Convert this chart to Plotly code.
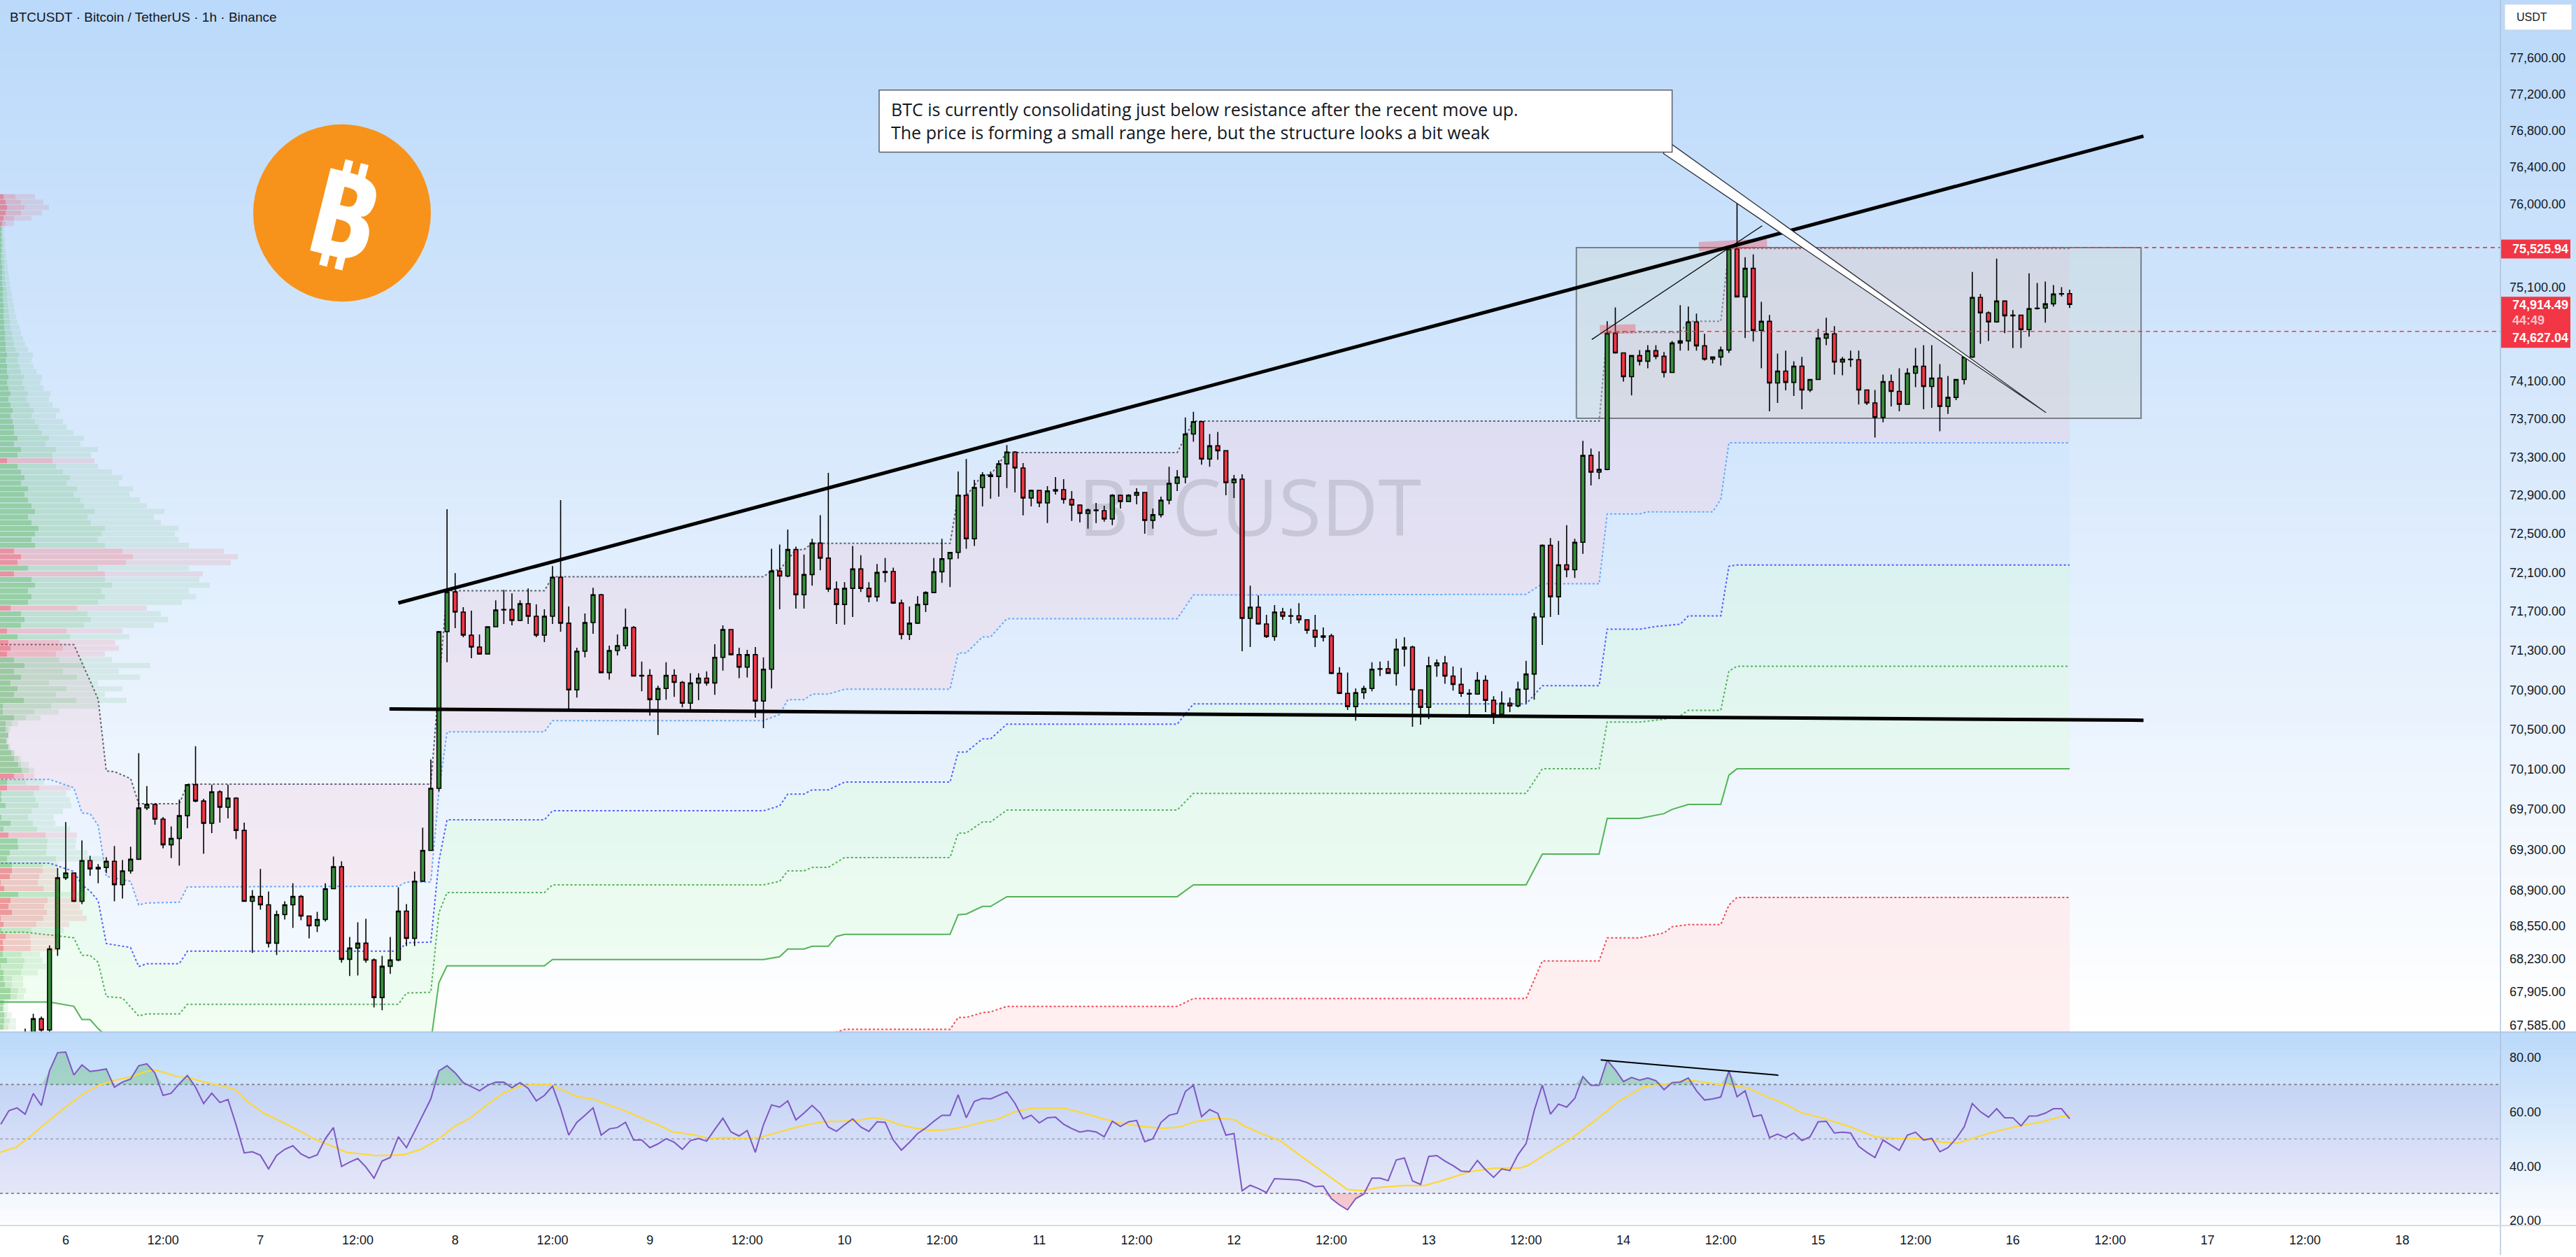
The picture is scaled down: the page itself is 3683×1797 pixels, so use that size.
import math
import numpy as np
import plotly.graph_objects as go

W, H = 3683, 1797
PLOT_R = 3575      # right edge of the panes, px
MAIN_B = 1478      # bottom of the price pane, px
RSI_B = 1755       # bottom of the RSI pane, px

# ---------------------------------------------------------------- data
# hourly BTCUSDT bars, x = hours counted from Apr 6 00:00 (first bar = Apr 5 19:00)
first_bar = -5
opens = [
    67380, 67480, 67646, 67537, 68325,
    69022, 69069, 68790, 69192, 69110, 69124, 69185, 68954, 69090, 69205, 69714, 69749, 69603, 69349, 69411, 69637, 69947, 69783, 69561, 69875, 69721, 69812, 69491, 68790,
    68838, 68756, 68380, 68660, 68756, 68838, 68646, 68550, 68612, 68914, 69131, 68223, 68332, 68380, 68216, 67851, 68155, 68216, 68694, 68427, 68988, 69293, 69910, 71493,
    71900, 71693, 71457, 71336, 71265, 71543, 71714, 71720, 71607, 71778, 71650, 71457, 71650, 72050, 71579, 70900, 71293, 71586, 71871, 71075, 71300, 71350, 71536, 71040,
    71047, 70802, 70914, 71047, 70977, 70766, 70970, 71019, 70970, 71230, 71514, 71258, 71131, 71258, 70788, 71110, 72114, 72063, 72336, 71871, 72078, 72403, 72248, 71929,
    71771, 71936, 72136, 71936, 71850, 72100, 72110, 71785, 71464, 71579, 71771, 71893, 72107, 72241, 72307, 72900, 72448, 72980, 73111, 73096, 73227, 73351, 73184, 72871,
    72951, 72820, 72944, 72958, 72856, 72798, 72711, 72747, 72740, 72653, 72900, 72835, 72900, 72929, 72639, 72697, 72849, 73024, 73089, 73540, 73671, 73278, 73416, 73365,
    73031, 73067, 71629, 71743, 71571, 71443, 71693, 71650, 71655, 71614, 71507, 71436, 71450, 71068, 70865, 70731, 70872, 70914, 71110, 71115, 71068, 71314, 71336, 70900,
    70724, 71145, 71174, 71040, 70956, 70865, 70858, 70998, 70795, 70654, 70766, 70738, 70907, 71061, 71643, 72381, 71850, 72178, 72128, 72411, 73315, 73140, 73169, 74607,
    74398, 74145, 74369, 74309, 74421, 74361, 74190, 74503, 74525, 74727, 74473, 74331, 74354, 74428, 75510, 74996, 75302, 74637, 74734, 74078, 74205, 74085, 74256, 74005,
    74115, 74555, 74600, 74301, 74331, 74325, 74005, 73868, 73715, 74093, 73990, 73853, 74182, 74256, 74041, 74130, 73831, 73926, 74115, 74354, 74989, 74824, 74727, 74951,
    74794, 74800, 74645, 74869, 74875, 74921, 75026, 75030,
]
highs = [
    67550, 67694, 67667, 68359, 69117,
    69574, 69075, 69391, 69239, 69158, 69225, 69335, 69198, 69328, 70261, 69933, 69760, 69624, 69530, 69798, 69950, 70332, 69805, 69947, 69890, 69947, 69820, 69568, 68900,
    69110, 68886, 68700, 68790, 68968, 68852, 68650, 68687, 68968, 69232, 69185, 68441, 68584, 68619, 68230, 68257, 68441, 68928, 68763, 69083, 69518, 70198, 71500, 72754,
    72093, 71743, 71707, 71464, 71543, 71814, 71921, 71885, 71814, 71935, 71771, 71721, 72165, 72849, 71750, 71328, 71679, 71943, 71880, 71350, 71464, 71728, 71550, 71188,
    71110, 70942, 71181, 71110, 70991, 71068, 71068, 71089, 71364, 71557, 71520, 71328, 71307, 71336, 71230, 72344, 72388, 72544, 72366, 72285, 72448, 72692, 73133, 72007,
    72000, 72374, 72278, 72000, 72187, 72248, 72150, 71821, 71750, 71857, 71907, 72248, 72448, 72310, 73147, 73278, 73060, 73140, 73147, 73264, 73424, 73360, 73235, 72958,
    72955, 72995, 73089, 73067, 72944, 72805, 72762, 72820, 72791, 72910, 72907, 72910, 72973, 72935, 72762, 72885, 73198, 73162, 73714, 73773, 73680, 73540, 73562, 73370,
    73111, 73118, 71964, 71864, 71664, 71764, 71736, 71728, 71785, 71620, 71664, 71536, 71471, 71131, 71075, 70914, 70942, 71181, 71188, 71195, 71421, 71436, 71350, 70905,
    71237, 71209, 71244, 71138, 71124, 70907, 71082, 71047, 70837, 70886, 70823, 70984, 71195, 71686, 72390, 72455, 72425, 72588, 72448, 73468, 73387, 73358, 74734, 74883,
    74400, 74375, 74428, 74480, 74480, 74406, 74525, 74906, 74891, 74817, 74600, 74360, 74465, 75525.94, 76008, 75421, 75451, 74943, 74802, 74391, 74421, 74309, 74354, 74120,
    74653, 74772, 74683, 74354, 74421, 74421, 74010, 74005, 74167, 74167, 74234, 74234, 74450, 74480, 74480, 74279, 74152, 74120, 74360, 75264, 75026, 74839, 75406, 74960,
    74854, 74805, 75249, 75145, 75160, 75123, 75100, 75071,
]
lows = [
    67250, 67450, 67517, 67510, 68257,
    69000, 68783, 68763, 69042, 68968, 69069, 68790, 68818, 69062, 69200, 69693, 69547, 69314, 69217, 69142, 69512, 69770, 69259, 69464, 69568, 69610, 69405, 68785, 68285,
    68708, 68339, 68264, 68612, 68530, 68605, 68427, 68489, 68591, 68910, 68189, 68060, 68066, 68189, 67755, 67728, 68080, 68203, 68352, 68352, 68980, 69290, 69880, 71181,
    71529, 71436, 71222, 71258, 71260, 71540, 71571, 71557, 71600, 71571, 71436, 71386, 71571, 71493, 70696, 70823, 71230, 71471, 71070, 71005, 71251, 71314, 71035, 70886,
    70640, 70444, 70802, 70830, 70724, 70689, 70795, 70942, 70851, 71096, 71250, 71019, 71026, 70619, 70514, 70914, 71721, 72050, 71728, 71728, 71964, 72122, 71900, 71571,
    71564, 71643, 71900, 71793, 71800, 72000, 71778, 71414, 71407, 71571, 71693, 71890, 71993, 71950, 72241, 72344, 72374, 72784, 72863, 72885, 72975, 72929, 72690, 72784,
    72776, 72610, 72907, 72813, 72632, 72617, 72552, 72610, 72625, 72588, 72762, 72830, 72805, 72500, 72552, 72668, 72805, 72944, 73024, 73460, 73220, 73198, 73271, 72900,
    72871, 71293, 71336, 71565, 71429, 71400, 71614, 71571, 71579, 71471, 71336, 71393, 71060, 70858, 70696, 70590, 70809, 70886, 71040, 71061, 70942, 71138, 70528, 70549,
    70605, 71033, 70963, 70893, 70830, 70654, 70850, 70675, 70556, 70648, 70675, 70724, 70766, 70802, 71357, 71643, 71664, 72050, 72043, 72292, 73002, 73067, 73160, 74390,
    74093, 73948, 74264, 74234, 74331, 74138, 74185, 74421, 74421, 74421, 74316, 74286, 74264, 74398, 74990, 74555, 74518, 74234, 73780, 73868, 74000, 73941, 73802, 73983,
    74110, 74480, 74167, 74160, 74249, 73852, 73846, 73504, 73664, 73831, 73780, 73850, 74034, 73802, 73817, 73570, 73751, 73897, 74063, 74346, 74495, 74525, 74720, 74607,
    74450, 74450, 74570, 74860, 74720, 74891, 75000, 74876,
]
closes = [
    67480, 67646, 67537, 68325, 69022,
    69069, 68790, 69192, 69110, 69124, 69185, 68954, 69090, 69205, 69714, 69749, 69603, 69349, 69411, 69637, 69947, 69783, 69561, 69875, 69721, 69812, 69491, 68790, 68838,
    68756, 68380, 68660, 68756, 68838, 68646, 68550, 68612, 68914, 69131, 68223, 68332, 68380, 68216, 67851, 68155, 68216, 68694, 68427, 68988, 69293, 69910, 71493, 71900,
    71693, 71457, 71336, 71265, 71543, 71714, 71720, 71607, 71778, 71650, 71457, 71650, 72050, 71579, 70900, 71293, 71586, 71871, 71075, 71300, 71350, 71536, 71040, 71047,
    70802, 70914, 71047, 70977, 70766, 70970, 71019, 70970, 71230, 71514, 71258, 71131, 71258, 70788, 71110, 72114, 72063, 72336, 71871, 72078, 72403, 72248, 71929, 71771,
    71936, 72136, 71936, 71850, 72100, 72110, 71785, 71464, 71579, 71771, 71893, 72107, 72241, 72307, 72900, 72448, 72980, 73111, 73096, 73227, 73351, 73184, 72871, 72951,
    72820, 72944, 72958, 72856, 72798, 72711, 72747, 72740, 72653, 72900, 72835, 72900, 72929, 72639, 72697, 72849, 73024, 73089, 73540, 73671, 73278, 73416, 73365, 73031,
    73067, 71629, 71743, 71571, 71443, 71693, 71650, 71655, 71614, 71507, 71436, 71450, 71068, 70865, 70731, 70872, 70914, 71110, 71115, 71068, 71314, 71336, 70900, 70724,
    71145, 71174, 71040, 70956, 70865, 70858, 70998, 70795, 70654, 70766, 70738, 70907, 71061, 71643, 72381, 71850, 72178, 72128, 72411, 73315, 73140, 73169, 74607, 74398,
    74145, 74369, 74309, 74421, 74361, 74190, 74503, 74525, 74727, 74473, 74331, 74354, 74428, 75510, 74996, 75302, 74637, 74734, 74078, 74205, 74085, 74256, 74005, 74115,
    74555, 74600, 74301, 74331, 74325, 74005, 73868, 73715, 74093, 73990, 73853, 74182, 74256, 74041, 74130, 73831, 73926, 74115, 74354, 74989, 74824, 74727, 74951, 74794,
    74800, 74645, 74869, 74875, 74921, 75026, 75030, 74914.49,
]
bar_hours = list(range(first_bar, first_bar + len(closes)))

# RSI(14), one value per hour from Apr 5 16:00
rsi_first = -8
rsi = [
    55.4, 60.4, 61.4, 59.1, 66.7, 62.3, 75.0, 81.7,
    81.9, 73.5, 77.2, 74.8, 75.2, 75.7, 69.0, 70.9, 72.0, 76.9, 77.6, 74.2, 66.0, 66.8, 70.3, 73.3, 69.0, 63.0, 66.8, 63.4, 64.5, 55.2, 44.9, 45.3,
    44.0, 39.0, 44.0, 46.2, 47.5, 44.5, 43.0, 44.2, 50.1, 54.2, 39.9, 41.5, 42.8, 39.7, 35.6, 41.9, 43.2, 50.8, 46.8, 52.6, 58.7, 64.7, 75.0, 76.9,
    74.3, 70.7, 69.2, 67.7, 69.7, 70.9, 70.9, 68.8, 70.7, 68.6, 64.0, 66.0, 69.4, 61.2, 51.4, 56.1, 58.7, 61.4, 51.4, 53.7, 54.2, 56.1, 49.6, 49.6,
    46.8, 48.2, 50.1, 48.8, 46.2, 49.4, 50.2, 49.2, 53.5, 57.6, 52.6, 51.1, 53.1, 45.1, 55.2, 62.5, 61.7, 64.0, 57.0, 59.5, 62.3, 59.5, 54.4, 52.8,
    55.2, 57.4, 54.4, 52.8, 56.3, 56.1, 49.6, 45.9, 48.8, 52.0, 54.0, 56.5, 58.7, 58.7, 66.2, 57.8, 63.8, 64.9, 64.7, 66.0, 67.3, 63.1, 57.4, 58.7,
    55.9, 57.8, 58.0, 55.4, 53.8, 52.5, 53.1, 52.6, 50.8, 56.5, 54.6, 56.3, 56.8, 49.0, 50.1, 56.1, 58.7, 59.4, 67.4, 69.7, 58.2, 60.8, 59.4, 51.4,
    52.0, 31.0, 33.0, 31.8, 30.3, 35.4,
    35.3, 35.1, 34.9, 34.0, 32.5, 32.7, 28.1, 25.8, 24.0, 28.1, 29.8, 35.6, 35.6, 34.7, 42.3, 43.0, 34.6, 33.3, 43.6, 43.9, 41.9, 40.2, 38.2, 38.0,
    42.1, 38.7, 35.9, 39.0, 38.4, 44.2, 48.3, 60.4, 69.8, 59.1, 62.8, 61.7, 64.9, 72.9, 69.7, 69.7, 78.9, 75.4, 71.1, 72.6, 71.6, 72.4, 71.4, 68.1,
    70.7, 70.9, 72.4, 67.7, 64.3, 64.7, 65.4, 75.0, 65.5, 67.7, 58.2, 58.8, 50.5, 51.8, 50.5, 52.2, 49.4, 50.8, 56.3, 56.5, 52.2, 52.5, 52.2, 47.3,
    45.1, 43.2, 49.6, 47.7, 45.8, 51.4, 52.5, 49.6, 50.2, 45.3, 46.8, 50.1, 54.4, 63.0, 60.0, 58.0, 61.1, 57.8, 57.8, 54.8, 58.4, 58.5, 59.5, 61.1,
    61.1, 57.4,
]
rsi_hours = list(range(rsi_first, rsi_first + len(rsi)))

# RSI-based moving average (yellow), read as vertices
rsi_ma_hours = [-8.1, -6.1, -4.0, -2.0, 0.0, 2.1, 4.1, 6.1, 8.2, 9.7, 11.0, 12.2, 13.8, 15.3, 17.3, 19.4, 20.9, 22.4, 24.4, 26.5,
                28.5, 30.5, 32.6, 34.6, 36.7, 38.2, 39.7, 41.7, 43.8, 45.8, 47.8, 49.9, 51.9, 53.9, 56.0, 58.0, 59.8, 61.1, 63.1, 65.1,
                67.2, 69.2, 71.2, 73.3, 74.8, 77.3, 79.4, 81.4, 83.4, 85.5, 87.5, 89.5, 91.6, 93.6, 95.7, 97.7, 99.7, 101.3, 102.8, 104.8,
                106.8, 108.9, 110.9, 112.9, 115.0, 117.0, 119.0, 121.1, 123.1, 125.2, 127.2, 129.2, 131.3, 133.3, 135.3, 137.4, 139.4, 141.9, 144.0, 145.5,
                147.5, 149.7, 151.7, 153.7, 155.8, 158.0, 159.8, 161.9, 164.9, 167.5, 170.0, 173.1, 176.1, 179.2, 180.2, 182.2, 185.3, 188.4, 191.4, 194.5,
                197.5, 200.0, 202.6, 205.2, 207.2, 209.8, 211.8, 213.9, 216.9, 220.0, 223.0, 226.1, 229.1, 231.2, 233.2, 234.2, 237.2, 240.3, 243.3, 245.4, 247.2]
rsi_ma = [45.1, 47.0, 51.8, 57.0, 61.7, 66.4, 69.8, 71.6, 72.9, 74.6, 75.4, 74.3, 72.9, 72.4, 70.7, 69.4, 68.1, 63.8, 59.5, 56.5,
          53.5, 50.1, 47.7, 45.1, 44.5, 43.9, 44.0, 44.2, 46.2, 49.6, 54.4, 57.8, 62.5, 66.8, 69.4, 70.0, 69.9, 68.1, 65.5, 64.5,
          62.1, 60.0, 57.4, 54.8, 52.6, 51.6, 50.2, 50.5, 50.2, 50.5, 52.2, 53.9, 55.4, 56.4, 56.5, 56.9, 57.8, 56.9, 55.2, 53.9,
          53.1, 53.5, 54.5, 56.1, 57.4, 60.0, 61.2, 61.4, 61.2, 59.7, 58.0, 56.3, 55.2, 54.4, 53.9, 54.5, 56.5, 57.6, 57.1, 54.4,
          51.8, 49.4, 44.9, 40.6, 36.3, 31.4, 31.0, 32.2, 32.9, 32.9, 35.0, 38.0, 39.3, 39.3, 40.2, 44.0, 49.6, 56.5, 63.8, 69.2,
          70.3, 71.7, 70.5, 69.7, 68.8, 65.4, 63.0, 59.7, 57.4, 54.4, 50.8, 50.1, 50.1, 48.8, 48.5, 49.4, 52.2, 54.5, 56.1, 57.8, 58.8]

# stepped band indicator (vertices: hour, price)
band_top_h = [-9, 1, 4, 5, 6, 8, 9, 14, 15, 45, 46, 47, 59, 60, 86, 87, 88, 90, 91, 92, 109, 110, 111, 113, 114, 116, 137, 139, 189, 190, 199, 200, 204, 205, 247]
band_top_p = [71361, 71361, 70807, 70084, 70077, 70007, 69756, 69756, 69951, 69951, 70956, 71911, 71911, 72055, 72055, 72120, 72127, 72336, 72336, 72401,
              72401, 72894, 72894, 73112, 73112, 73346, 73346, 73676, 73676, 74616, 74616, 74735, 74735, 75515, 75515]
band_lb_h = [-9, -2, 1, 2, 3, 4, 5, 8, 9, 10, 14, 15, 41, 42, 45, 46, 47, 59, 60, 86, 88, 89, 91, 92, 94, 96, 109, 110, 111, 113,
             114, 116, 137, 139, 180, 182, 189, 190, 194, 195, 203, 204, 205, 247]
band_lb_p = [69999, 69999, 69916, 69665, 69658, 69540, 69036, 68987, 68754, 68774, 68781, 68932, 68939, 68980, 68980, 69881, 70476, 70476, 70589, 70589,
             70652, 70801, 70801, 70857, 70857, 70907, 70907, 71275, 71275, 71439, 71439, 71625, 71625, 71868, 71875, 71983, 71983, 72705, 72705, 72727,
             72727, 72858, 73449, 73449]
band_bl_h = [-9, -2, 1, 2, 3, 4, 5, 8, 9, 10, 14, 15, 41, 42, 45, 46, 47, 59, 60, 86, 88, 89, 91, 92, 94, 96, 109, 110, 111, 113,
             114, 116, 137, 139, 180, 182, 189, 190, 194, 196, 199, 200, 204, 205, 206, 247]
band_bl_p = [69167, 69167, 69084, 68953, 68891, 68795, 68377, 68337, 68152, 68180, 68180, 68302, 68302, 68384, 68391, 69187, 69596, 69596, 69686, 69686,
             69735, 69853, 69853, 69895, 69895, 69972, 69972, 70273, 70273, 70406, 70406, 70554, 70554, 70758, 70758, 70942, 70942, 71518, 71518, 71546,
             71568, 71653, 71653, 72163, 72177, 72177]
band_gd_h = [-9, -5, -1, 1, 2, 3, 4, 5, 7, 9, 10, 14, 15, 41, 42, 45, 46, 47, 59, 60, 86, 88, 89, 91, 92, 94, 96, 109, 110, 111,
             113, 114, 116, 137, 139, 180, 182, 189, 190, 194, 197, 199, 200, 204, 205, 206, 247]
band_gd_p = [68487, 68487, 68452, 68432, 68262, 68262, 68193, 67861, 67847, 67672, 67692, 67692, 67786, 67786, 67895, 67902, 68678, 68877, 68877, 68953,
             68953, 68987, 69091, 69091, 69125, 69125, 69222, 69222, 69464, 69464, 69575, 69575, 69693, 69693, 69860, 69860, 70105, 70105, 70575, 70575,
             70603, 70638, 70694, 70694, 71091, 71140, 71140]
band_gs_h = [-9, -2, 1, 2, 3, 4, 5, 9, 14, 15, 45, 46, 47, 59, 60, 86, 88, 89, 91, 92, 94, 95, 96, 109, 110, 111, 113, 114, 116, 137,
             139, 180, 182, 189, 190, 194, 197, 198, 200, 204, 205, 206, 247]
band_gs_p = [67807, 67807, 67766, 67638, 67638, 67550, 67480, 67330, 67330, 67420, 67420, 67996, 68159, 68159, 68221, 68221, 68248, 68323, 68323, 68350,
             68350, 68446, 68466, 68466, 68658, 68665, 68740, 68740, 68836, 68836, 68953, 68953, 69256, 69256, 69610, 69610, 69658, 69700, 69749, 69749,
             70042, 70105, 70105]
band_rd_h = [-9, 94, 95, 96, 109, 110, 111, 113, 114, 116, 137, 139, 180, 182, 189, 190, 194, 197, 198, 200, 204, 205, 206, 247]
band_rd_p = [67300, 67420, 67516, 67543, 67543, 67658, 67658, 67705, 67712, 67766, 67766, 67841, 67841, 68207, 68207, 68432, 68432, 68480, 68541, 68562,
             68562, 68754, 68829, 68829]

# visible-range volume profile, rows from the bottom price bin upward
vp_bottom = 67566
vp_step = 58.7
vp_side = list("GGGGGGGGGGGGGRRRGRRRRRGRRRRGGGGGRGGGGGGGRGRGGGGGGGGGGGGG"
               "GGGGGGGRRRGRGGGRGGGGGRGRRRGG" + "G" * 13 + "R" + "G" * 42 + "R" * 6)
vp_a = [5, 6, 6, 4, 5, 15, 15, 7, 5, 5, 1, 10, 4, 5, 4, 8, 2, 5, 1, 17, 12, 15, 26, 6, 1, 14, 17, 17, 10, 14,
        26, 25, 12, 5, 15, 2, 0, 8, 2, 2, 10, 10, 20, 31, 26, 20, 16, 12, 9, 12, 8, 8, 20, 4, 4, 34,
        20, 25, 15, 30, 20, 35, 20, 10, 15, 12, 25, 10, 30, 35, 30, 15, 40, 45, 40, 50,
        45, 20, 40, 25, 30, 20, 50, 45, 50, 55, 45, 40, 50, 45, 40, 35, 40, 30, 35, 30,
        25, 10, 25, 30, 20, 25, 20, 20, 18, 15, 18, 15, 12, 15, 12, 10, 12, 10, 10, 8,
        10, 8, 8, 7, 7, 6, 6, 5, 5, 5, 4, 4, 4, 3, 3, 3, 3, 2, 2, 2,
        2, 2, 2, 2, 3, 5, 8, 10, 8, 5]
vp_b = [12, 14, 10, 6, 7, 24, 26, 17, 17, 30, 33, 35, 31, 44, 44, 43, 45, 52, 62, 67, 63, 68, 78, 62, 54, 56, 61, 61, 80, 66,
        67, 68, 65, 53, 47, 40, 45, 55, 51, 48, 56, 37, 34, 41, 30, 26, 20, 12, 9, 12, 12, 17, 37, 49, 73, 109,
        80, 95, 70, 110, 90, 120, 85, 80, 90, 85, 100, 95, 120, 130, 125, 110, 140, 150, 145, 160,
        150, 150, 140, 180, 190, 175, 150, 140, 145, 150, 130, 125, 135, 120, 115, 105, 110, 95, 100, 90,
        80, 75, 75, 80, 65, 70, 60, 55, 50, 45, 48, 42, 38, 40, 35, 32, 34, 30, 28, 25,
        27, 22, 20, 18, 17, 15, 14, 13, 12, 11, 10, 10, 9, 8, 7, 7, 6, 6, 5, 4,
        4, 4, 3, 3, 8, 20, 30, 35, 30, 22]
vp_c = [23, 23, 17, 12, 12, 34, 37, 33, 33, 54, 66, 61, 57, 81, 81, 79, 91, 99, 124, 118, 114, 116, 124, 83, 87, 85, 83, 83, 149, 125,
        108, 109, 110, 100, 79, 77, 90, 102, 100, 95, 101, 63, 49, 49, 41, 30, 21, 15, 12, 12, 15, 26, 58, 84, 140, 181,
        150, 175, 140, 200, 170, 215, 160, 150, 170, 165, 185, 175, 220, 240, 230, 210, 260, 280, 270, 300,
        285, 290, 270, 330, 340, 320, 270, 255, 250, 255, 230, 220, 235, 210, 200, 185, 190, 170, 175, 160,
        140, 135, 130, 140, 115, 120, 105, 95, 90, 80, 85, 75, 70, 72, 62, 58, 60, 52, 48, 45,
        47, 40, 36, 33, 30, 28, 25, 23, 21, 20, 18, 17, 15, 14, 13, 12, 11, 10, 9, 8,
        7, 7, 6, 6, 20, 45, 60, 70, 62, 50]

# axis ticks
time_ticks = list(range(0, 289, 12))
time_labels = ["6", "12:00", "7", "12:00", "8", "12:00", "9", "12:00", "10", "12:00", "11", "12:00", "12",
               "12:00", "13", "12:00", "14", "12:00", "15", "12:00", "16", "12:00", "17", "12:00", "18"]
price_ticks = [77600, 77200, 76800, 76400, 76000, 75100, 74100, 73700, 73300, 72900, 72500, 72100, 71700,
               71300, 70900, 70500, 70100, 69700, 69300, 68900, 68550, 68230, 67905, 67585]
rsi_ticks = [20, 40, 60, 80]

range_high = 75525.94
range_low = 74627.04
last_price = 74914.49
countdown = "44:49"

note_text = ("BTC is currently consolidating just below resistance after the recent move up.<br>"
             "The price is forming a small range here, but the structure looks a bit weak")

# ---------------------------------------------------------------- helpers
X_RANGE = [-8.1, 300.1]
Y_RANGE = [4.82941, 4.893457]       # log10 of price
RSI_RANGE = [18.2, 89.23]
FONT = "Liberation Sans"
INK = "#131722"


def px(x):
    return x / W


def py(y):
    return 1 - y / H


fig = go.Figure()
shapes = []
annotations = []


# background gradients (price pane and RSI pane)
def gradient(y_top, y_bot, c_top, c_bot, n=60):
    for i in range(n):
        t = i / (n - 1)
        c = tuple(round(a + (b - a) * t) for a, b in zip(c_top, c_bot))
        y0 = y_top + (y_bot - y_top) * i / n
        y1 = y_top + (y_bot - y_top) * (i + 1) / n
        shapes.append(dict(type="rect", xref="paper", yref="paper", x0=0, x1=1,
                           y0=py(y1 + 0.6), y1=py(y0), fillcolor="rgb(%d,%d,%d)" % c,
                           line_width=0, layer="below"))


gradient(0, MAIN_B, (187, 217, 250), (255, 255, 255))
gradient(MAIN_B, RSI_B, (187, 217, 250), (252, 253, 255))


# ---------------------------------------------------------------- base layer: bands
def band(hs, ps, color, dash, fill=None, fillcolor=None, width=2):
    fig.add_trace(go.Scatter(x=hs, y=ps, mode="lines",
                             line=dict(color=color, width=width, dash=dash),
                             fill=fill, fillcolor=fillcolor,
                             xaxis="x", yaxis="y", hoverinfo="skip", showlegend=False))


band(band_top_h, band_top_p, "rgba(80,84,96,0.9)", "dot")
band(band_lb_h, band_lb_p, "rgba(100,170,250,1)", "dot", "tonexty", "rgba(240,190,212,0.26)")
band(band_bl_h, band_bl_p, "rgba(70,80,250,0.9)", "dot", "tonexty", "rgba(120,180,250,0.05)")
band(band_gd_h, band_gd_p, "rgba(76,175,80,0.95)", "dot", "tonexty", "rgba(205,250,214,0.35)")
band(band_gs_h, band_gs_p, "rgba(76,175,80,0.95)", "solid", "tonexty", "rgba(215,252,214,0.35)")
band(band_rd_h, band_rd_p, "rgba(242,54,69,0.9)", "dot")
fig.add_trace(go.Scatter(x=[band_rd_h[0], band_rd_h[-1]], y=[60000, 60000], mode="lines",
                         line=dict(width=0), fill="tonexty", fillcolor="rgba(255,226,228,0.55)",
                         xaxis="x", yaxis="y", hoverinfo="skip", showlegend=False))

# watermark (under the candles)
fig.add_trace(go.Scatter(x=[(1787 - 94) / 11.6], y=[72684], mode="text", text=["BTCUSDT"],
                         textfont=dict(family="Open Sans", size=112, color="rgba(120,123,134,0.25)"),
                         xaxis="x", yaxis="y", hoverinfo="skip", showlegend=False))

# range box
box_h = [186.2, 255.8]
box_p = [73706, range_high]
fig.add_trace(go.Scatter(x=[box_h[0], box_h[1], box_h[1], box_h[0], box_h[0]],
                         y=[box_p[0], box_p[0], box_p[1], box_p[1], box_p[0]],
                         mode="lines", fill="toself", fillcolor="rgba(205,215,205,0.35)",
                         line=dict(color="rgba(110,118,128,0.9)", width=2),
                         xaxis="x", yaxis="y", hoverinfo="skip", showlegend=False))

# ---------------------------------------------------------------- candle layer
fig.add_trace(go.Candlestick(
    x=bar_hours, open=opens, high=highs, low=lows, close=closes,
    increasing=dict(line=dict(color="#000000", width=1.6), fillcolor="#388e3c"),
    decreasing=dict(line=dict(color="#000000", width=1.6), fillcolor="#f23645"),
    whiskerwidth=0, xaxis="x3", yaxis="y3", hoverinfo="skip", showlegend=False))


def seg(x0, y0, x1, y1, color="#000000", width=5, dash="solid", xa="x3", ya="y3"):
    fig.add_trace(go.Scatter(x=[x0, x1], y=[y0, y1], mode="lines",
                             line=dict(color=color, width=width, dash=dash),
                             xaxis=xa, yaxis=ya, hoverinfo="skip", showlegend=False))


# highlighter strokes and range lines
seg(201.3, 75537, 209.7, 75575, "rgba(242,54,69,0.32)", 13)
seg(189.1, 74645, 193.5, 74655, "rgba(242,54,69,0.32)", 13)
seg(205, range_high, X_RANGE[1], range_high, "#f23645", 1.6, "6px,5px")
seg(190, range_low, X_RANGE[1], range_low, "#f23645", 1.6, "6px,5px")

# trend lines
seg(41.0, 71786, 256.1, 76738, "#000000", 5)
seg(39.9, 70707, 256.1, 70593, "#000000", 5)
seg(188.1, 74540, 209.1, 75761, "#000000", 1.3)

# callout
tip = (244.1, 73765)
fig.add_trace(go.Scatter(x=[196.9, tip[0], 198.0, 196.9], y=[76549, tip[1], 76646, 76549],
                         mode="lines", fill="toself", fillcolor="#ffffff",
                         line=dict(color="#2a2e39", width=1.3),
                         xaxis="x3", yaxis="y3", hoverinfo="skip", showlegend=False))
note_h = [100.26, 198.0]
note_p = [76562, 77245]
fig.add_trace(go.Scatter(x=[note_h[0], note_h[1], note_h[1], note_h[0], note_h[0]],
                         y=[note_p[0], note_p[0], note_p[1], note_p[1], note_p[0]],
                         mode="lines", fill="toself", fillcolor="#ffffff",
                         line=dict(color="#5d606b", width=1.5),
                         xaxis="x3", yaxis="y3", hoverinfo="skip", showlegend=False))
annotations.append(dict(x=101.6, y=math.log10(76910), xref="x", yref="y", text=note_text,
                        showarrow=False, xanchor="left", yanchor="middle", align="left",
                        font=dict(family="Open Sans", size=25, color=INK)))

# ---------------------------------------------------------------- volume profile layer
vp_rows = [vp_bottom + i * vp_step for i in range(len(vp_c))]
rgb = {"G": (76, 175, 80), "R": (242, 54, 69)}
for lo, hi, alpha in ((None, vp_a, 0.5), (vp_a, vp_b, 0.25), (vp_b, vp_c, 0.12)):
    base = [0] * len(hi) if lo is None else lo
    fig.add_trace(go.Bar(
        y=vp_rows, x=[h - b for h, b in zip(hi, base)], base=base, orientation="h",
        marker=dict(color=["rgba(%d,%d,%d,%.2f)" % (rgb[s] + (alpha,)) for s in vp_side], line_width=0),
        xaxis="x4", yaxis="y4", hoverinfo="skip", showlegend=False))

# ---------------------------------------------------------------- RSI pane
shapes.append(dict(type="rect", xref="paper", yref="y2", x0=0, x1=px(PLOT_R), y0=30, y1=70,
                   fillcolor="rgba(126,87,194,0.10)", line_width=0, layer="below"))
for lvl, col in ((70, "rgba(120,123,134,0.95)"), (50, "rgba(120,123,134,0.6)"), (30, "rgba(120,123,134,0.95)")):
    shapes.append(dict(type="line", xref="paper", yref="y2", x0=0, x1=px(PLOT_R), y0=lvl, y1=lvl,
                       line=dict(color=col, width=1.6, dash="4px,4px"), layer="below"))

rsi_arr = np.array(rsi)
for ref, clipped, col in ((70, np.maximum(rsi_arr, 70), "rgba(76,175,80,0.30)"),
                          (30, np.minimum(rsi_arr, 30), "rgba(242,54,69,0.25)")):
    fig.add_trace(go.Scatter(x=rsi_hours, y=[ref] * len(rsi_hours), mode="lines", line=dict(width=0),
                             xaxis="x2", yaxis="y2", hoverinfo="skip", showlegend=False))
    fig.add_trace(go.Scatter(x=rsi_hours, y=clipped, mode="lines", line=dict(width=0),
                             fill="tonexty", fillcolor=col,
                             xaxis="x2", yaxis="y2", hoverinfo="skip", showlegend=False))
fig.add_trace(go.Scatter(x=rsi_ma_hours, y=rsi_ma, mode="lines", line=dict(color="#fdd835", width=2.2),
                         xaxis="x2", yaxis="y2", hoverinfo="skip", showlegend=False))
fig.add_trace(go.Scatter(x=rsi_hours, y=rsi, mode="lines", line=dict(color="#7e57c2", width=2),
                         xaxis="x2", yaxis="y2", hoverinfo="skip", showlegend=False))
seg(189.2, 79.0, 211.1, 73.4, "#000000", 2, xa="x2", ya="y2")

# ---------------------------------------------------------------- decorations
# separators
shapes.append(dict(type="line", xref="paper", yref="paper", x0=px(PLOT_R), x1=px(PLOT_R), y0=0, y1=1,
                   line=dict(color="rgba(170,190,215,0.9)", width=1.5)))
shapes.append(dict(type="line", xref="paper", yref="paper", x0=0, x1=1, y0=py(MAIN_B), y1=py(MAIN_B),
                   line=dict(color="rgba(175,200,230,1)", width=2)))
shapes.append(dict(type="line", xref="paper", yref="paper", x0=0, x1=1, y0=py(RSI_B), y1=py(RSI_B),
                   line=dict(color="rgba(215,220,228,1)", width=2)))

# title
annotations.append(dict(x=px(12), y=py(25), xref="paper", yref="paper", showarrow=False,
                        text="BTCUSDT · Bitcoin / TetherUS · 1h · Binance", xanchor="left", yanchor="middle",
                        font=dict(family=FONT, size=19, color=INK)))

# bitcoin logo
shapes.append(dict(type="circle", xref="paper", yref="paper", x0=px(362), x1=px(616), y0=py(432), y1=py(178),
                   fillcolor="#f7931a", line_width=0))
annotations.append(dict(x=px(489), y=py(305), xref="paper", yref="paper", showarrow=False, text="₿",
                        textangle=14, xshift=-75, yshift=129,
                        font=dict(family="Noto Sans, DejaVu Sans", size=170, color="#ffffff", weight="bold")))

# currency badge
shapes.append(dict(type="rect", xref="paper", yref="paper", x0=px(3581), x1=px(3677), y0=py(43), y1=py(6),
                   fillcolor="#ffffff", line=dict(color="rgba(200,210,225,1)", width=1)))
annotations.append(dict(x=px(3596), y=py(25), xref="paper", yref="paper", showarrow=False, text="USDT",
                        xanchor="left", yanchor="middle", font=dict(family=FONT, size=16, color=INK)))

# price scale labels
shapes.append(dict(type="rect", xref="paper", yref="paper", x0=px(3576), x1=px(3675), y0=py(370), y1=py(343),
                   fillcolor="#f23645", line_width=0))
shapes.append(dict(type="rect", xref="paper", yref="paper", x0=px(3576), x1=px(3675), y0=py(498), y1=py(425),
                   fillcolor="#f23645", line_width=0))
for txt, yy, col in (("{:,.2f}".format(range_high), 357, "#ffffff"),
                     ("{:,.2f}".format(last_price), 437, "#ffffff"),
                     (countdown, 459, "#f9c4c9"),
                     ("{:,.2f}".format(range_low), 484, "#ffffff")):
    annotations.append(dict(x=px(3590), y=py(yy), xref="paper", yref="paper", showarrow=False, text=txt,
                            xanchor="left", yanchor="middle",
                            font=dict(family=FONT, size=18, color=col, weight="bold")))

# ---------------------------------------------------------------- layout
axis_font = dict(family=FONT, size=18, color=INK)
hidden = dict(visible=False, showgrid=False, zeroline=False)
fig.update_layout(
    width=W, height=H, margin=dict(l=0, r=0, t=0, b=0, pad=0),
    paper_bgcolor="#ffffff", plot_bgcolor="rgba(0,0,0,0)",
    showlegend=False, barmode="overlay", bargap=0.1,
    xaxis=dict(domain=[0, px(PLOT_R)], range=X_RANGE, anchor="y", showticklabels=False,
               showgrid=False, zeroline=False, rangeslider=dict(visible=False), showline=False),
    yaxis=dict(domain=[py(MAIN_B), 1], type="log", range=Y_RANGE, side="right", anchor="x",
               tickvals=price_ticks, ticktext=["{:,.2f}".format(v) for v in price_ticks],
               tickfont=axis_font, ticks="", showgrid=False, zeroline=False, ticklabelstandoff=12),
    xaxis2=dict(domain=[0, px(PLOT_R)], range=X_RANGE, anchor="y2", tickvals=time_ticks,
                ticktext=time_labels, tickfont=axis_font, ticks="", showgrid=False, zeroline=False,
                ticklabelstandoff=8),
    yaxis2=dict(domain=[py(RSI_B), py(MAIN_B)], range=RSI_RANGE, side="right", anchor="x2",
                tickvals=rsi_ticks, ticktext=["%.2f" % v for v in rsi_ticks], tickfont=axis_font,
                ticks="", showgrid=False, zeroline=False, ticklabelstandoff=12),
    xaxis3=dict(overlaying="x", range=X_RANGE, anchor="y3", rangeslider=dict(visible=False), **hidden),
    yaxis3=dict(overlaying="y", type="log", range=Y_RANGE, anchor="x3", **hidden),
    xaxis4=dict(overlaying="x", range=[0, PLOT_R], anchor="y4", **hidden),
    yaxis4=dict(overlaying="y", type="log", range=Y_RANGE, anchor="x4", **hidden),
    shapes=shapes, annotations=annotations,
)

fig.write_html("out.html", config={"displayModeBar": False},
               post_script="document.body.style.margin='0px'; document.body.style.overflow='hidden';")
